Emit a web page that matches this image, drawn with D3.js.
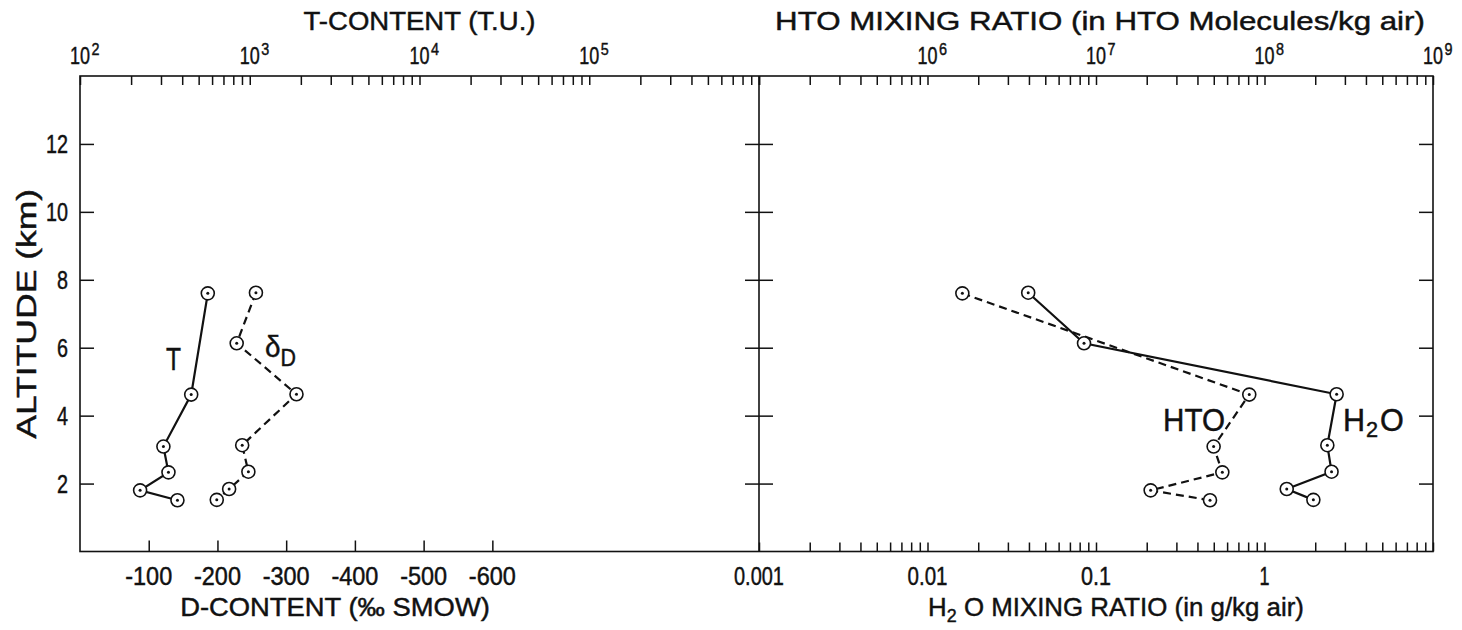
<!DOCTYPE html>
<html><head><meta charset="utf-8">
<script src="https://cdn.jsdelivr.net/npm/d3@7"></script>
<style>
html,body{margin:0;padding:0;background:#fff;}
svg{display:block;}
text{font-family:"Liberation Sans", Arial, sans-serif; fill:#111; stroke:#111; stroke-width:0.45px;}
</style></head><body>
<svg id="chart" width="1462" height="630"></svg>
<script>
// Sampling altitudes (km): deuterium / water vapour at seven levels, tritium at six
const altitudeD = [7.62, 6.13, 4.63, 3.13, 2.35, 1.84, 1.52];
const altitudeT = [7.60, 4.62, 3.09, 2.33, 1.80, 1.51];
// Left panel: tritium content (T.U.) and deuterium content (permil SMOW)
const tritiumTU = [566, 452, 310, 332, 226, 375];
const deltaD = [-256, -228, -315, -236, -245, -217, -199];
// Right panel: HTO molecules per kg air and H2O g per kg air
const htoPerKg = [1.61e6, 8.12e7, 4.99e7, 5.62e7, 2.11e7, 4.75e7];
const h2oPerKg = [0.0396, 0.0849, 2.68, 2.36, 2.50, 1.355, 1.95];
// Tick values and labels
const altitudeTicks = [2, 4, 6, 8, 10, 12];
const tuExponents = [2, 3, 4, 5];
const dTicks = [-100, -200, -300, -400, -500, -600];
const htoExponents = [6, 7, 8, 9];
const h2oTicks = [0.001, 0.01, 0.1, 1];
const h2oTickText = ["0.001", "0.01", "0.1", "1"];

const svg = d3.select("#chart");
const yTop = 76, yBottom = 551.5;
const leftX0 = 80, mid = 759, rightX1 = 1433;
const ink = "#111";

const y = d3.scaleLinear().domain([0, 14]).range([yBottom, yTop]);
const xTU = d3.scaleLog().domain([1e2, 1e6]).range([leftX0, mid]);
const xD = d3.scaleLinear().domain([0, -988]).range([leftX0, mid]);
const xHTO = d3.scaleLog().domain([1e5, 1e9]).range([mid, rightX1]);
const xH2O = d3.scaleLog().domain([1e-3, 10]).range([mid, rightX1]);

// every 1..9 multiple within a log domain
function logTicks(scale) {
  const [a, b] = scale.domain();
  const out = [];
  for (let e = Math.round(Math.log10(a)); e < Math.round(Math.log10(b)); e++) {
    for (let m = 1; m <= 9; m++) out.push(m * Math.pow(10, e));
  }
  out.push(b);
  return out;
}

function styleAxis(g) {
  g.select(".domain").remove();
  g.selectAll(".tick line").attr("stroke", ink).attr("stroke-width", 1.5);
  g.selectAll(".tick text").remove();
}

// top log axes, ticks pointing into the plot
svg.append("g").attr("transform", `translate(0,${yTop})`)
  .call(d3.axisBottom(xTU).tickValues(logTicks(xTU)).tickSize(9).tickFormat(""))
  .call(styleAxis);
svg.append("g").attr("transform", `translate(0,${yTop})`)
  .call(d3.axisBottom(xHTO).tickValues(logTicks(xHTO)).tickSize(9).tickFormat(""))
  .call(styleAxis);
// bottom axes
svg.append("g").attr("transform", `translate(0,${yBottom})`)
  .call(d3.axisTop(xD).tickValues(dTicks).tickSize(11).tickFormat(""))
  .call(styleAxis);
svg.append("g").attr("transform", `translate(0,${yBottom})`)
  .call(d3.axisTop(xH2O).tickValues(logTicks(xH2O)).tickSize(9).tickFormat(""))
  .call(styleAxis);
// altitude ticks on the three vertical edges
svg.append("g").attr("transform", `translate(${leftX0},0)`)
  .call(d3.axisRight(y).tickValues(altitudeTicks).tickSize(14).tickFormat(""))
  .call(styleAxis);
svg.append("g").attr("transform", `translate(${mid},0)`)
  .call(d3.axisLeft(y).tickValues(altitudeTicks).tickSize(14).tickFormat(""))
  .call(styleAxis);
svg.append("g").attr("transform", `translate(${mid},0)`)
  .call(d3.axisRight(y).tickValues(altitudeTicks).tickSize(14).tickFormat(""))
  .call(styleAxis);
svg.append("g").attr("transform", `translate(${rightX1},0)`)
  .call(d3.axisLeft(y).tickValues(altitudeTicks).tickSize(14).tickFormat(""))
  .call(styleAxis);

// panel frames
svg.append("rect").attr("x", leftX0).attr("y", yTop)
  .attr("width", rightX1 - leftX0).attr("height", yBottom - yTop)
  .attr("fill", "none").attr("stroke", ink).attr("stroke-width", 1.6);
svg.append("line").attr("x1", mid).attr("x2", mid).attr("y1", yTop).attr("y2", yBottom)
  .attr("stroke", ink).attr("stroke-width", 1.6);

// text squeezed horizontally to a given width (lettering is narrower than the font)
function squeeze(t, x, yPos, width, rotate = 0) {
  const natural = t.node().getComputedTextLength();
  const k = width ? width / natural : 1;
  t.attr("transform", `translate(${x},${yPos}) rotate(${rotate}) scale(${k},1)`);
  return t;
}
function label(x, yPos, str, size, width, anchor = "middle") {
  const t = svg.append("text").attr("font-size", size).attr("text-anchor", anchor).text(str);
  return squeeze(t, x, yPos, width);
}

// powers of ten: base centred on the tick, exponent raised to its right
function powerLabel(x, yPos, exp) {
  label(x, yPos, "10", 24, 20);
  label(x + 11.5, yPos - 9, String(exp), 17, 8, "start");
}
tuExponents.forEach(e => powerLabel(xTU(Math.pow(10, e)), 64, e));
htoExponents.forEach(e => powerLabel(xHTO(Math.pow(10, e)), 64, e));

dTicks.forEach(v => label(xD(v), 585, String(v), 25, 47));
h2oTicks.forEach((v, i) => label(xH2O(v), 585, h2oTickText[i], 25, h2oTickText[i].length * 10));

altitudeTicks.forEach(v => label(68, y(v) + 9, String(v), 25, String(v).length * 11, "end"));

// axis titles
label((leftX0 + mid) / 2, 30, "T-CONTENT (T.U.)", 26, 232);
label((mid + rightX1) / 2 + 4, 30, "HTO MIXING RATIO (in HTO Molecules/kg air)", 26, 650);
label(335, 616, "D-CONTENT (‰ SMOW)", 26, 310);
const h2oTitle = svg.append("text").attr("font-size", 26).attr("text-anchor", "middle");
h2oTitle.append("tspan").text("H");
h2oTitle.append("tspan").attr("dy", 6).attr("font-size", 18).text("2");
h2oTitle.append("tspan").attr("dy", -6).text(" O MIXING RATIO (in g/kg air)");
squeeze(h2oTitle, 1116, 616, 376);

const altTitle = svg.append("text").attr("text-anchor", "middle").attr("font-size", 28)
  .text("ALTITUDE (km)");
squeeze(altTitle, 36, (yTop + yBottom) / 2, 250, -90);

// profiles
function profile(xs, scaleX, alts, dashed) {
  const pts = xs.map((v, i) => [scaleX(v), y(alts[i])]);
  svg.append("path").attr("d", d3.line()(pts))
    .attr("fill", "none").attr("stroke", ink).attr("stroke-width", 2.2)
    .attr("stroke-dasharray", dashed ? "8,5" : null);
  return pts;
}
function markers(pts) {
  const g = svg.append("g");
  g.selectAll("circle.ring").data(pts).join("circle").attr("class", "ring")
    .attr("cx", d => d[0]).attr("cy", d => d[1]).attr("r", 6.5)
    .attr("fill", "#fff").attr("stroke", ink).attr("stroke-width", 1.6);
  g.selectAll("circle.dot").data(pts).join("circle").attr("class", "dot")
    .attr("cx", d => d[0]).attr("cy", d => d[1]).attr("r", 1.5).attr("fill", ink);
}
const pT = profile(tritiumTU, xTU, altitudeT, false);
const pD = profile(deltaD, xD, altitudeD, true);
const pHTO = profile(htoPerKg, xHTO, altitudeT, true);
const pH2O = profile(h2oPerKg, xH2O, altitudeD, false);
[pT, pD, pHTO, pH2O].forEach(markers);

// series labels
label(173.5, 370, "T", 32, 15);
const dl = svg.append("text").attr("font-size", 30);
dl.append("tspan").text("δ");
dl.append("tspan").attr("dy", 9).attr("font-size", 23).text("D");
squeeze(dl, 265, 357, 31);
label(1194, 431, "HTO", 31, 62);
const hl = svg.append("text").attr("font-size", 31);
hl.append("tspan").text("H");
hl.append("tspan").attr("dy", 6).attr("dx", 1).attr("font-size", 22).text("2");
hl.append("tspan").attr("dy", -6).attr("dx", 2).text("O");
squeeze(hl, 1343, 431, 58);
</script>
</body></html>
